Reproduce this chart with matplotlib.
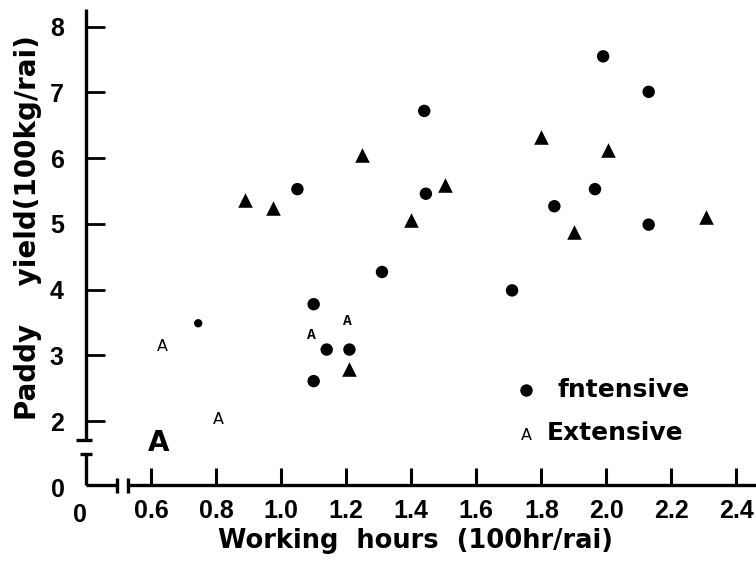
import matplotlib
matplotlib.use("Agg")
import numpy as np
import matplotlib.pyplot as plt

# intensive farms (filled circles)
int_x = [1.99, 2.13, 1.44, 1.05, 1.445, 1.965, 1.84, 2.13, 1.31, 1.71, 1.10, 1.14, 1.21, 1.10, 0.745]
int_y = [7.55, 7.01, 6.72, 5.53, 5.46, 5.53, 5.27, 4.99, 4.27, 3.99, 3.78, 3.09, 3.09, 2.61, 3.49]

# triangles
tri_x = [1.25, 1.80, 2.005, 1.505, 0.975, 0.89, 1.40, 1.90, 2.305, 1.21]
tri_y = [6.05, 6.33, 6.12, 5.59, 5.24, 5.37, 5.06, 4.88, 5.10, 2.80]

# extensive farms drawn as letter "A"
ext_x = [0.636, 0.806, 0.624, 1.094, 1.204]
ext_y = [3.14, 2.02, 1.67, 3.31, 3.52]

xticks = [0.6, 0.8, 1.0, 1.2, 1.4, 1.6, 1.8, 2.0, 2.2, 2.4]
xlabels = ["0.6", "0.8", "1.0", "1.2", "1.4", "1.6", "1.8", "2.0", "2.2", "2.4"]
yticks = [2, 3, 4, 5, 6, 7, 8]
ylabels = ["2", "3", "4", "5", "6", "7", "8"]

# styles
int_sizes = [80] * 14 + [36]
ext_styles = [
    dict(family=["DejaVu Sans"], fontsize=11.5, fontweight="normal"),
    dict(family=["DejaVu Sans"], fontsize=11.5, fontweight="normal"),
    dict(family=["Liberation Sans Narrow", "DejaVu Sans"], fontsize=20, fontweight="bold"),
    dict(family=["Liberation Mono"], fontsize=10.5, fontweight="bold"),
    dict(family=["Liberation Mono"], fontsize=10.5, fontweight="bold"),
]

fig = plt.figure(figsize=(7.56, 5.66), dpi=100)
ax = fig.add_axes([86 / 756, 81 / 566, 670 / 756, 476 / 566])
ax.set_xlim(0.4, 2.46)
ax.set_ylim(1.03, 8.27)

ax.scatter(int_x, int_y, s=int_sizes, marker="o", color="black", linewidths=0, zorder=3)
ax.scatter(tri_x, tri_y, s=110, marker="^", color="black", linewidths=0, zorder=3)
for x, y, st in zip(ext_x, ext_y, ext_styles):
    ax.text(x, y, "A", ha="center", va="center", color="black", **st)

# axes with breaks
for s in ax.spines.values():
    s.set_visible(False)
lw = 2.4
kw = dict(transform=ax.transAxes, clip_on=False, color="black", lw=lw, solid_capstyle="butt")
ax.plot([0, 0], [0.0945, 1.0], **kw)
ax.plot([-0.0149, 0.009], [0.0945, 0.0945], **kw)
ax.plot([0, 0], [0, 0.0651], **kw)
ax.plot([-0.009, 0.009], [0.0651, 0.0651], **kw)
ax.plot([0, 0.0463], [0, 0], **kw)
ax.plot([0.0463, 0.0463], [-0.0168, 0.0147], **kw)
ax.plot([0.0627, 0.0627], [-0.0168, 0.0147], **kw)
ax.plot([0.0627, 1.0], [0, 0], **kw)

ax.set_xticks(xticks)
ax.set_xticklabels(xlabels)
ax.set_yticks(yticks)
ax.set_yticklabels(ylabels)
ax.tick_params(axis="x", direction="in", length=12, width=2.2, pad=10)
ax.tick_params(axis="y", direction="in", length=14, width=2.0, pad=16)
for lab in ax.get_xticklabels() + ax.get_yticklabels():
    lab.set_fontfamily("Liberation Sans")
    lab.set_fontweight("bold")
    lab.set_fontsize(18)

# zero labels at the broken origin
ax.text(-0.042, -0.01, "0", transform=ax.transAxes, ha="center", va="center",
        family="Liberation Sans", fontweight="bold", fontsize=18)
ax.text(-0.009, -0.063, "0", transform=ax.transAxes, ha="center", va="center",
        family="Liberation Sans", fontweight="bold", fontsize=18)

# legend
ax.scatter([0.657], [0.20], s=80, marker="o", color="black", linewidths=0,
           transform=ax.transAxes, clip_on=False)
ax.text(0.703, 0.20, "fntensive", transform=ax.transAxes, ha="left", va="center",
        family="DejaVu Sans", fontweight="bold", fontsize=18)
ax.text(0.657, 0.105, "A", transform=ax.transAxes, ha="center", va="center",
        family="DejaVu Sans", fontsize=11.5)
ax.text(0.688, 0.109, "Extensive", transform=ax.transAxes, ha="left", va="center",
        family="DejaVu Sans", fontweight="bold", fontsize=18)

fig.text(416 / 756, 1 - 541 / 566, "Working  hours  (100hr/rai)", ha="center", va="center",
         family="DejaVu Sans", fontweight="bold", fontsize=18.5)
fig.text(28 / 756, 1 - 228 / 566, "Paddy    yield(100kg/rai)", ha="center", va="center",
         rotation=90, family="DejaVu Sans", fontweight="bold", fontsize=20)

fig.savefig("out.png", dpi=100)
